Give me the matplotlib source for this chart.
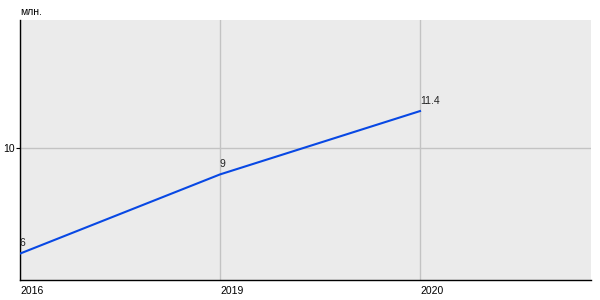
import matplotlib
matplotlib.use("Agg")
import matplotlib.pyplot as plt

years = ["2016", "2019", "2020"]
values = [6, 9, 11.4]
value_labels = ["6", "9", "11.4"]
y_ticks = [10]

plt.rcParams['font.family'] = ['Liberation Sans', 'DejaVu Sans']

fig = plt.figure(figsize=(6, 3), dpi=100)
ax = fig.add_axes([20 / 600, 20 / 300, 571 / 600, 260 / 300])
ax.set_facecolor('#ebebeb')

x = list(range(len(years)))
ax.plot(x, values, color='#0848e4', linewidth=1.5, zorder=3)
for xi, v, lab in zip(x, values, value_labels):
    ax.annotate(lab, (xi, v), xytext=(0, 4), textcoords='offset points',
                ha='left', va='bottom', fontsize=7.5, color='#222222')

ax.set_xlim(0, 2.855)
ax.set_ylim(5, 14.85)
ax.set_xticks(x)
ax.set_xticklabels(years, ha='left', fontsize=7.5)
for lbl in ax.get_xticklabels():
    lbl.set_x(lbl.get_position()[0])
ax.set_yticks(y_ticks)
ax.set_yticklabels([str(t) for t in y_ticks], fontsize=7.5)
ax.tick_params(axis='x', length=0, pad=4)
ax.tick_params(axis='y', length=3, width=0.8, pad=1)
ax.grid(True, color='#c3c3c3', linewidth=1)
ax.set_axisbelow(True)

for s in ['top', 'right']:
    ax.spines[s].set_visible(False)
for s in ['left', 'bottom']:
    ax.spines[s].set_color('black')
    ax.spines[s].set_linewidth(1)

fig.text(20 / 600, 1 - 12 / 300, 'млн.', fontsize=7.5, ha='left', va='center')

fig.savefig('out.png', dpi=100)
